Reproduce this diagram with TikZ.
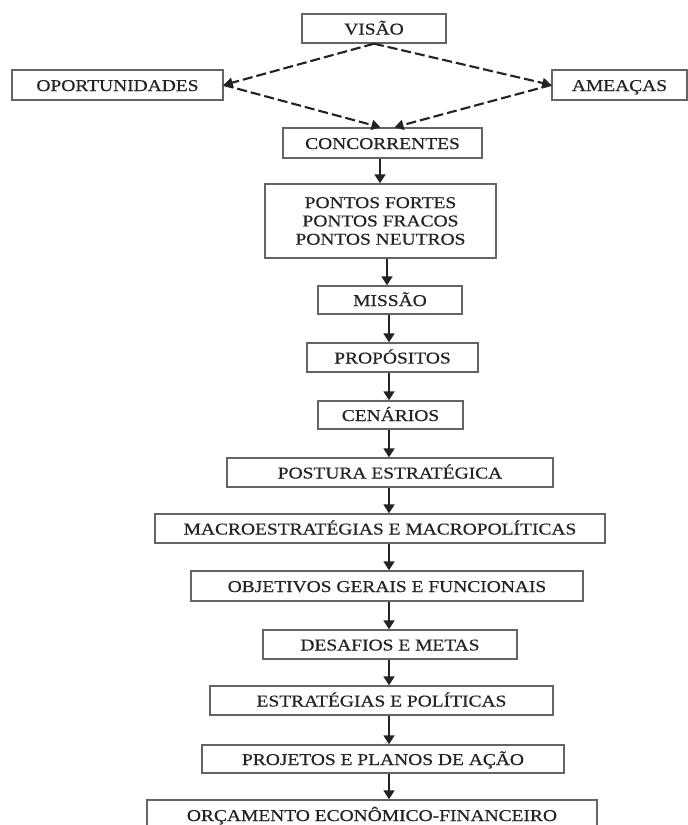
\documentclass[tikz,border=0pt]{standalone}
\usepackage{fontspec}
\setmainfont{Liberation Serif}[FakeStretch=1.18,FakeBold=0.5]
\usetikzlibrary{arrows.meta}
\definecolor{boxline}{RGB}{100,100,100}
\definecolor{ink}{RGB}{35,35,35}
\tikzset{
  box/.style={draw=boxline, line width=1.4pt, inner sep=0pt, align=center,
    text=ink, font=\fontsize{16.5}{18.3}\selectfont},
  one/.style={text height=12pt, text depth=0pt},
  arr/.style={draw=ink, line width=1.8pt, -{Triangle[width=11pt,length=9pt]}},
  darr/.style={draw=ink, line width=2.1pt, dash pattern=on 10pt off 4pt,
    -{Triangle[width=10pt,length=9pt]}}
}
\begin{document}
\begin{tikzpicture}[x=1pt,y=-1pt]
\useasboundingbox (0,0) rectangle (688,825);
\clip (0,0) rectangle (688,825);
\fill[white] (0,0) rectangle (688,825);
\node[box, one, minimum width=144pt, minimum height=29pt] (visao) at (374,28.5) {VISÃO};
\node[box, one, minimum width=211pt, minimum height=30pt] (oport) at (117.5,85) {OPORTUNIDADES};
\node[box, one, minimum width=135pt, minimum height=30pt] (amea) at (619.5,85) {AMEAÇAS};
\node[box, one, minimum width=199pt, minimum height=30pt] (conc) at (382.5,143) {CONCORRENTES};
\node[box, minimum width=231pt, minimum height=74pt] (pontos) at (380.5,221) {PONTOS FORTES\\PONTOS FRACOS\\PONTOS NEUTROS};
\node[box, one, minimum width=144pt, minimum height=28pt] (missao) at (390,300) {MISSÃO};
\node[box, one, minimum width=171pt, minimum height=29pt] (prop) at (392.5,357.5) {PROPÓSITOS};
\node[box, one, minimum width=145pt, minimum height=28pt] (cen) at (390.5,415) {CENÁRIOS};
\node[box, one, minimum width=326pt, minimum height=29pt] (post) at (390,472.5) {POSTURA ESTRATÉGICA};
\node[box, one, minimum width=450pt, minimum height=29pt] (macro) at (380,528.5) {MACROESTRATÉGIAS E MACROPOLÍTICAS};
\node[box, one, minimum width=392pt, minimum height=30pt] (obj) at (387,586) {OBJETIVOS GERAIS E FUNCIONAIS};
\node[box, one, minimum width=254pt, minimum height=29pt] (desaf) at (390,644.5) {DESAFIOS E METAS};
\node[box, one, minimum width=343pt, minimum height=29pt] (estr) at (381.5,700.5) {ESTRATÉGIAS E POLÍTICAS};
\node[box, one, minimum width=362pt, minimum height=28pt] (proj) at (383,759) {PROJETOS E PLANOS DE AÇÃO};
\node[box, one, minimum width=450pt, minimum height=30pt] (orc) at (372,815) {ORÇAMENTO ECONÔMICO-FINANCEIRO};
% dashed connectors
\draw[darr] (visao.south) -- (oport.east);
\draw[darr] (visao.south) -- (amea.west);
\draw[darr] (oport.east) -- ([xshift=-2pt]conc.north);
\draw[darr] (amea.west) -- ([xshift=12pt]conc.north);
% vertical chain
\coordinate (ax1) at (380,0);
\coordinate (ax2) at (387,0);
\coordinate (ax) at (389,0);
\draw[arr] (conc.south -| ax1) -- (pontos.north -| ax1);
\draw[arr] (pontos.south -| ax2) -- (missao.north -| ax2);
\draw[arr] (missao.south -| ax) -- (prop.north -| ax);
\draw[arr] (prop.south -| ax) -- (cen.north -| ax);
\draw[arr] (cen.south -| ax) -- (post.north -| ax);
\draw[arr] (post.south -| ax) -- (macro.north -| ax);
\draw[arr] (macro.south -| ax) -- (obj.north -| ax);
\draw[arr] (obj.south -| ax) -- (desaf.north -| ax);
\draw[arr] (desaf.south -| ax) -- (estr.north -| ax);
\draw[arr] (estr.south -| ax) -- (proj.north -| ax);
\draw[arr] (proj.south -| ax) -- (orc.north -| ax);
\end{tikzpicture}
\end{document}
